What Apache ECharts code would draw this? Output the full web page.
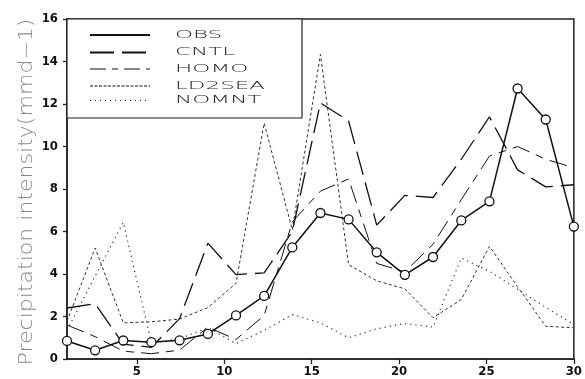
<!DOCTYPE html>
<html><head><meta charset="utf-8">
<script src="https://cdn.jsdelivr.net/npm/echarts@6/dist/echarts.min.js"></script>
<style>html,body{margin:0;padding:0;background:#fff}#c{width:585px;height:379px}</style>
</head><body><div id="c"></div>
<script>
// x positions of the samples (day)
const days = [1, 2.61, 4.22, 5.83, 7.44, 9.06, 10.67, 12.28, 13.89, 15.5, 17.11, 18.72, 20.33, 21.94, 23.56, 25.17, 26.78, 28.39, 30];
const obs    = [0.85, 0.41, 0.87, 0.79, 0.88, 1.18, 2.05, 2.97, 5.25, 6.87, 6.57, 5.02, 3.96, 4.80, 6.52, 7.42, 12.73, 11.27, 6.23];
const cntl   = [2.40, 2.60, 0.70, 0.55, 1.90, 5.45, 3.97, 4.05, 6.00, 12.05, 11.20, 6.30, 7.70, 7.60, 9.40, 11.40, 8.90, 8.10, 8.20];
const homo   = [1.60, 1.05, 0.37, 0.25, 0.42, 1.50, 0.92, 2.05, 6.45, 7.90, 8.47, 4.50, 4.10, 5.40, 7.50, 9.55, 10.00, 9.40, 9.00];
const ld2sea = [1.78, 5.22, 1.70, 1.75, 1.88, 2.42, 3.56, 11.10, 6.08, 14.33, 4.44, 3.68, 3.30, 1.94, 2.80, 5.30, 3.40, 1.54, 1.47];
const nomnt  = [1.35, 3.90, 6.43, 0.75, 0.95, 1.48, 0.72, 1.35, 2.09, 1.70, 1.00, 1.42, 1.67, 1.50, 4.75, 4.13, 3.28, 2.43, 1.62];
const xTickLabels = [5, 10, 15, 20, 25, 30];
const names = ['OBS', 'CNTL', 'HOMO', 'LD2SEA', 'NOMNT'];
const yTitle = 'Precipitation intensity(mmd\u22121)';

const values = [obs, cntl, homo, ld2sea, nomnt];
const styles = [
  {width: 1.5, type: 'solid', color: '#111'},
  {width: 1.3, type: [24, 8], color: '#111'},
  {width: 1, type: [18, 7, 8, 7], color: '#111'},
  {width: 1, type: [3, 2.5], color: '#333'},
  {width: 1.2, type: [1.2, 4], color: '#333'}
];
const legendDash = [null, [24, 8], [16, 6, 6, 6], [3, 1.5], [1, 4]];
const legendWidth = [2.2, 2, 1, 1, 1];

const chart = echarts.init(document.getElementById('c'), null, {renderer: 'canvas'});

const series = [];
for (let k = names.length - 1; k >= 0; k--) {
  const isObs = k === 0;
  series.push({
    name: names[k], type: 'line',
    data: values[k].map((v, i) => [days[i], v]),
    symbol: isObs ? 'circle' : 'none',
    symbolSize: 9,
    showSymbol: isObs,
    itemStyle: {color: '#fff', borderColor: '#111', borderWidth: 1.3},
    lineStyle: {width: styles[k].width, type: styles[k].type, color: styles[k].color},
    z: isObs ? 5 : 2,
    silent: true
  });
}

const rowY = [35, 52.5, 69, 86, 100.5];
const graphic = [
  {type: 'rect', z: 100, shape: {x: 67, y: 19, width: 235, height: 99},
   style: {fill: '#fff', stroke: '#222', lineWidth: 1.2}}
];
names.forEach((n, i) => {
  graphic.push({type: 'line', z: 101, shape: {x1: 90, y1: rowY[i], x2: 150, y2: rowY[i]},
    style: {stroke: '#111', lineWidth: legendWidth[i], lineDash: legendDash[i] || null}});
  graphic.push({type: 'text', z: 101, x: 175, y: rowY[i], scaleX: 2.3,
    style: {text: n, fill: '#222', font: '200 10px "DejaVu Sans"', textVerticalAlign: 'middle', textAlign: 'left'}});
});
graphic.push({type: 'text', z: 101, x: 27, y: 192, rotation: Math.PI / 2, scaleX: 1.16,
  style: {text: yTitle, fill: '#8a8a8a', font: '200 19px "DejaVu Sans"', textAlign: 'center', textVerticalAlign: 'middle'}});

chart.setOption({
  animation: false,
  backgroundColor: '#fff',
  grid: {left: 67, right: 8, top: 19, bottom: 20, show: true, borderColor: '#222', borderWidth: 1.5},
  xAxis: {
    type: 'value', min: 1, max: 30,
    axisLine: {show: true, lineStyle: {color: '#222', width: 1.5}},
    axisTick: {show: true, length: 5, customValues: xTickLabels, lineStyle: {color: '#222', width: 1.3}},
    axisLabel: {customValues: xTickLabels, color: '#111', fontFamily: '"Liberation Sans Narrow", "DejaVu Sans Condensed", sans-serif',
      fontWeight: 'bold', fontSize: 13, margin: 6},
    splitLine: {show: false}
  },
  yAxis: {
    type: 'value', min: 0, max: 16, interval: 2,
    axisLine: {show: true, lineStyle: {color: '#222', width: 1.5}},
    axisTick: {show: true, length: 4, lineStyle: {color: '#222', width: 1.3}},
    axisLabel: {color: '#111', fontFamily: '"Liberation Sans Narrow", "DejaVu Sans Condensed", sans-serif',
      fontWeight: 'bold', fontSize: 13, margin: 9},
    splitLine: {show: false}
  },
  graphic: graphic,
  series: series
});
</script></body></html>
